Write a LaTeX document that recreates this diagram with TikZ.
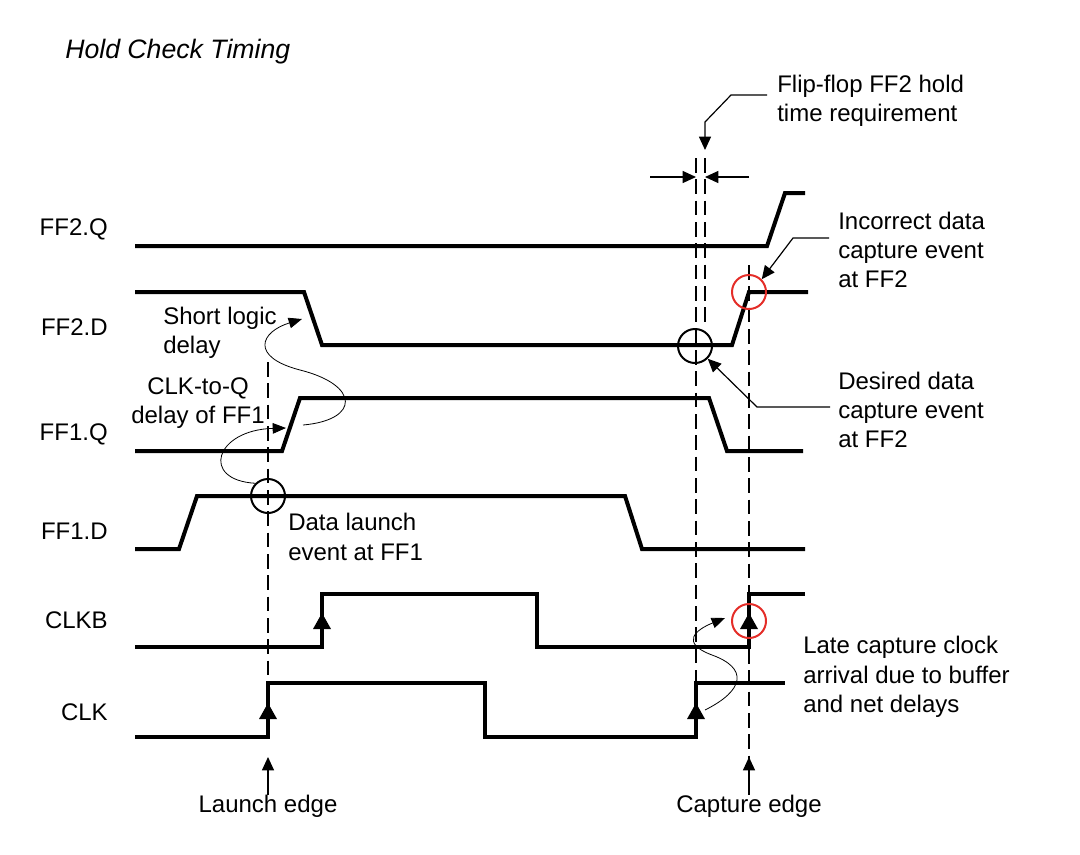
\documentclass[tikz,border=0pt]{standalone}
\usepackage{fontspec}
\setmainfont{Liberation Sans}
\usepackage{tikz}
\usetikzlibrary{arrows.meta}
\definecolor{evtred}{RGB}{228,45,40}

\begin{document}
\begin{tikzpicture}[x=0.75pt,y=-0.75pt,
    font=\fontsize{18}{22}\selectfont,
    wave/.style={line width=3pt,line join=miter},
    guide/.style={line width=1.1pt,dash pattern=on 11pt off 5pt},
    note/.style={line width=0.9pt,-{Triangle[length=10pt,width=9pt]}},
    curvy/.style={line width=0.6pt,-{Triangle[length=10pt,width=8pt]}},
    evt/.style={circle,draw,line width=1.5pt,minimum size=25.5pt,inner sep=0pt}]
\useasboundingbox (0,0) rectangle (1080,854);

\node[anchor=west,inner sep=0pt,font=\fontsize{20}{24}\selectfont\itshape] (title) at (65,52) {Hold Check Timing};

\begin{scope}[every node/.style={anchor=east,inner sep=0pt}]
    \node (ff2q) at (108,229) {FF2.Q};
    \node (ff2d) at (108,327) {FF2.D};
    \node (ff1q) at (108,434) {FF1.Q};
    \node (ff1d) at (108,531) {FF1.D};
    \node (clkb) at (108,620) {CLKB};
    \node (clk)  at (108,712) {CLK};
\end{scope}

% waveforms
\draw[wave] (135,246) -- (767,246) -- (785,193) -- (805,193);
\draw[wave] (135,292) -- (304,292) -- (322,345) -- (732,345) -- (749,292) -- (808,292);
\draw[wave] (135,451) -- (282,451) -- (300,398) -- (709,398) -- (727,451) -- (803,451);
\draw[wave] (135,549) -- (179,549) -- (197,496) -- (625,496) -- (642,549) -- (805,549);
\draw[wave] (135,647) -- (322,647) -- (322,594) -- (537,594) -- (537,647) -- (749,647) -- (749,594) -- (805,594);
\draw[wave] (135,737) -- (268,737) -- (268,683) -- (485,683) -- (485,737) -- (696,737) -- (696,683) -- (785,683);
\foreach \x/\y in {268/703, 322/613, 696/703, 749/613}
    \fill (\x-9,\y+16) -- (\x,\y) -- (\x+9,\y+16) -- cycle;

% edges and hold window
\coordinate (g1) at (696,158);
\coordinate (g2) at (705,158);
\coordinate (hl) at (650,177);
\coordinate (hr) at (749,177);
\draw[guide] (268,362) -- (268,683);
\draw[guide] (g1) -- (696,683);
\draw[guide] (g2) -- (705,322);
\draw[guide] (749,265) -- (749,760);
\draw[note] (hl) -- (hl -| g1);
\draw[note] (hr) -- (hr -| g2);

\node[evt] (launchevt) at (268,496) {};
\node[evt] (goodevt) at (695,346) {};
\node[evt,draw=evtred] (badevt) at (749,292) {};
\node[evt,draw=evtred] (lateevt) at (749,621) {};

\begin{scope}[every node/.style={anchor=west,align=left,inner sep=0pt}]
    \node (holdtxt) at (777,101) {Flip-flop FF2 hold\\time requirement};
    \node (badtxt) at (838,250) {Incorrect data\\capture event\\at FF2};
    \node (goodtxt) at (838,410) {Desired data\\capture event\\at FF2};
    \node (launchtxt) at (288,537) {Data launch\\event at FF1};
    \node (latetxt) at (803,677) {Late capture clock\\arrival due to buffer\\and net delays};
    \node (logictxt) at (163,333) {Short logic\\delay};
\end{scope}
\begin{scope}[every node/.style={align=center,inner sep=0pt}]
    \node (c2qtxt) at (198,403) {CLK-to-Q\\delay of FF1};
    \node (launchedge) at (268,806) {Launch edge};
    \node (captureedge) at (749,806) {Capture edge};
\end{scope}

% pointers
\draw[note] (launchedge.north) -- (268,757);
\draw[note] (captureedge.north) -- (749,757);
\draw[note] ([shift={(-10,-6)}]holdtxt.west) -- ++(-36,0) -- ++(-26,27) -- ++(0,28);
\draw[note] ([shift={(-9,-12)}]badtxt.west) -- ++(-36,0) -- (badevt.north east);
\draw[note] ([shift={(-8,-3)}]goodtxt.west) -- ++(-73,0) -- (goodevt.south east);

\coordinate (q1) at (286,428);
\coordinate (d1) at (302,319);
\coordinate (b1) at (725,618);
\draw[curvy] (launchevt.north west) .. controls (200,480) and (215,430) .. (q1);
\draw[curvy] (303,425) .. controls (360,420) and (360,385) .. (300,370)
    .. controls (250,357) and (260,332) .. (d1);
\draw[curvy] (705,710) .. controls (745,690) and (748,668) .. (712,655)
    .. controls (680,643) and (695,630) .. (b1);
\end{tikzpicture}
\end{document}
